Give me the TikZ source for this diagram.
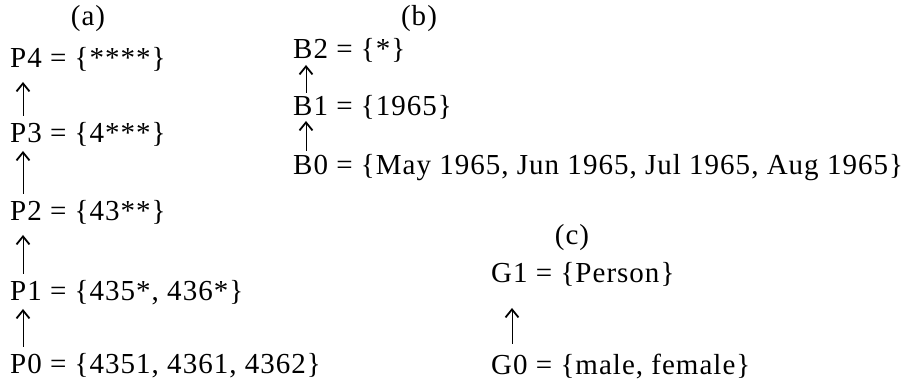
\documentclass[tikz,border=0pt]{standalone}
\usepackage{fontspec}
\setmainfont{Liberation Serif}[LetterSpace=3.5]
\usetikzlibrary{arrows.meta}
\begin{document}
\begin{tikzpicture}[x=1pt,y=1pt,
  txt/.style={anchor=base west,inner sep=0pt,font=\fontsize{29}{34}\selectfont},
  lbl/.style={anchor=base,inner sep=0pt,font=\fontsize{29}{34}\selectfont},
  arr/.style={line width=0.8pt,-{Straight Barb[line width=1.8pt,length=8pt,width=13pt]}}]
\useasboundingbox (0,0) rectangle (917,387);
% (a)
\node[lbl] (la) at (88,361) {(a)};
\node[txt] (P4) at (10,319) {P4 = \{****\}};
\node[txt] (P3) at (10,244) {P3 = \{4***\}};
\node[txt] (P2) at (10,166) {P2 = \{43**\}};
\node[txt] (P1) at (10,86) {P1 = \{435*, 436*\}};
\node[txt] (P0) at (10,13) {P0 = \{4351, 4361, 4362\}};
\draw[arr] ([shift={(13,27)}]P3.base west) -- ([shift={(13,-14)}]P4.base west);
\draw[arr] ([shift={(13,27)}]P2.base west) -- ([shift={(13,-8)}]P3.base west);
\draw[arr] ([shift={(13,27)}]P1.base west) -- ([shift={(13,-14)}]P2.base west);
\draw[arr] ([shift={(13,27)}]P0.base west) -- ([shift={(13,-8)}]P1.base west);
% (b)
\node[lbl] (lb) at (419,361) {(b)};
\node[txt] (B2) at (293,328) {B2 = \{*\}};
\node[txt] (B1) at (293,271) {B1 = \{1965\}};
\node[txt] (B0) at (293,212) {B0 = \{May 1965, Jun 1965, Jul 1965, Aug 1965\}};
\draw[arr] ([shift={(13,23)}]B1.base west) -- ([shift={(13,-6)}]B2.base west);
\draw[arr] ([shift={(13,24)}]B0.base west) -- ([shift={(13,-5)}]B1.base west);
% (c)
\node[lbl] (lc) at (572,142) {(c)};
\node[txt] (G1) at (491,104) {G1 = \{Person\}};
\node[txt] (G0) at (491,12) {G0 = \{male, female\}};
\draw[arr] ([shift={(21,31)}]G0.base west) -- ([shift={(21,-25)}]G1.base west);
\end{tikzpicture}
\end{document}
